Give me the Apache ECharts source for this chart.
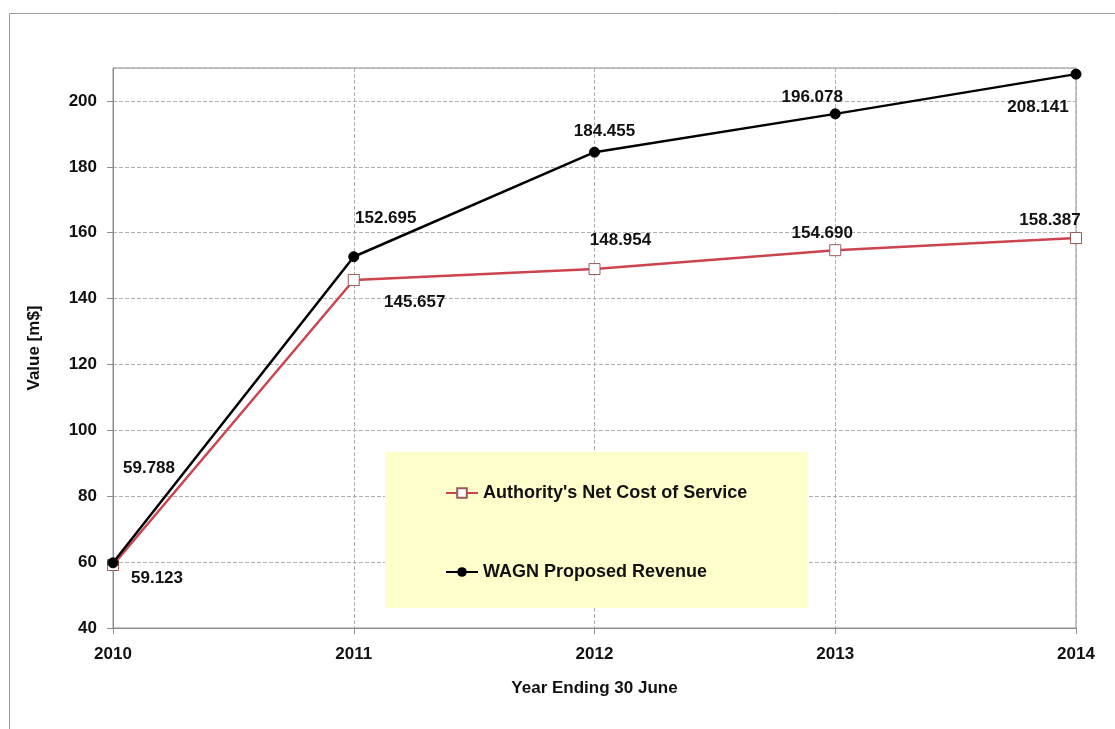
<!DOCTYPE html>
<html><head><meta charset="utf-8">
<script src="https://cdn.jsdelivr.net/npm/echarts@6/dist/echarts.min.js"></script>
<style>html,body{margin:0;padding:0;background:#fff}#c{width:1115px;height:729px}</style>
</head><body><div id="c"></div>
<script>
const years = ['2010','2011','2012','2013','2014'];
const costOfService = [59.123, 145.657, 148.954, 154.690, 158.387];
const proposedRevenue = [59.788, 152.695, 184.455, 196.078, 208.141];
const seriesNames = ["Authority's Net Cost of Service", 'WAGN Proposed Revenue'];

// label placement (pixel offsets from each point, as hand-placed in the original)
const costLabelOffsets = [[44,13],[61,22],[26,-29],[-13,-17],[-26,-18]];
const revLabelOffsets = [[36,-95],[32,-38],[10,-21],[-23,-17],[-38,33]];

const FONT = 'Liberation Sans, Arial, sans-serif';
const lbl = (off) => ({show:true, position:'inside', offset:off, color:'#111', fontFamily:FONT, fontWeight:'bold', fontSize:17,
  formatter: p => p.value.toFixed(3)});

const chart = echarts.init(document.getElementById('c'));
chart.setOption({
  animation:false,
  backgroundColor:'#fff',
  grid:{left:113, top:68, right:39, bottom:101, show:true, borderColor:'#8c8c99', borderWidth:1},
  graphic:[
    {type:'rect', shape:{x:9.5,y:13.5,width:1120,height:730}, style:{fill:null, stroke:'#9a9a9a', lineWidth:1}, z:0},
    {type:'rect', shape:{x:385,y:452,width:423,height:156}, style:{fill:'#FFFFCC'}, z:3}
  ],
  legend:{
    orient:'vertical', left:440, top:479, itemGap:61, itemWidth:32, itemHeight:12, z:10,
    textStyle:{fontFamily:FONT, fontWeight:'bold', fontSize:18, color:'#111'},
    data:seriesNames
  },
  xAxis:{
    type:'category', data:years, boundaryGap:false,
    name:'Year Ending 30 June', nameLocation:'middle', nameGap:52,
    nameTextStyle:{fontFamily:FONT, fontWeight:'bold', fontSize:17, color:'#111'},
    axisLine:{lineStyle:{color:'#8c8c8c'}},
    axisTick:{show:true, length:6, lineStyle:{color:'#8c8c8c'}},
    axisLabel:{fontFamily:FONT, fontWeight:'bold', fontSize:17, color:'#111', margin:18},
    splitLine:{show:true, lineStyle:{color:'#b0b0b0', type:'dashed'}}
  },
  yAxis:{
    type:'value', min:40, max:210, interval:20,
    name:'Value [m$]', nameLocation:'middle', nameGap:70, nameRotate:90,
    nameTextStyle:{fontFamily:FONT, fontWeight:'bold', fontSize:17, color:'#111'},
    axisLine:{show:true, lineStyle:{color:'#8c8c8c'}},
    axisTick:{show:true, length:6, lineStyle:{color:'#8c8c8c'}},
    axisLabel:{fontFamily:FONT, fontWeight:'bold', fontSize:17, color:'#111', margin:16, showMaxLabel:false},
    splitLine:{show:true, lineStyle:{color:'#b0b0b0', type:'dashed'}}
  },
  series:[
    {name:seriesNames[0], type:'line', z:4,
     data: costOfService.map((v,i)=>({value:v, label:lbl(costLabelOffsets[i])})),
     symbol:'rect', symbolSize:11,
     lineStyle:{color:'#CC4450', width:2.5},
     itemStyle:{color:'#ffffff', borderColor:'#9a5a5a', borderWidth:1},
     emphasis:{disabled:true}},
    {name:seriesNames[1], type:'line', z:5,
     data: proposedRevenue.map((v,i)=>({value:v, label:lbl(revLabelOffsets[i])})),
     symbol:'circle', symbolSize:10,
     lineStyle:{color:'#000', width:2.5},
     itemStyle:{color:'#000', borderColor:'#000'},
     emphasis:{disabled:true}}
  ]
});
</script></body></html>
